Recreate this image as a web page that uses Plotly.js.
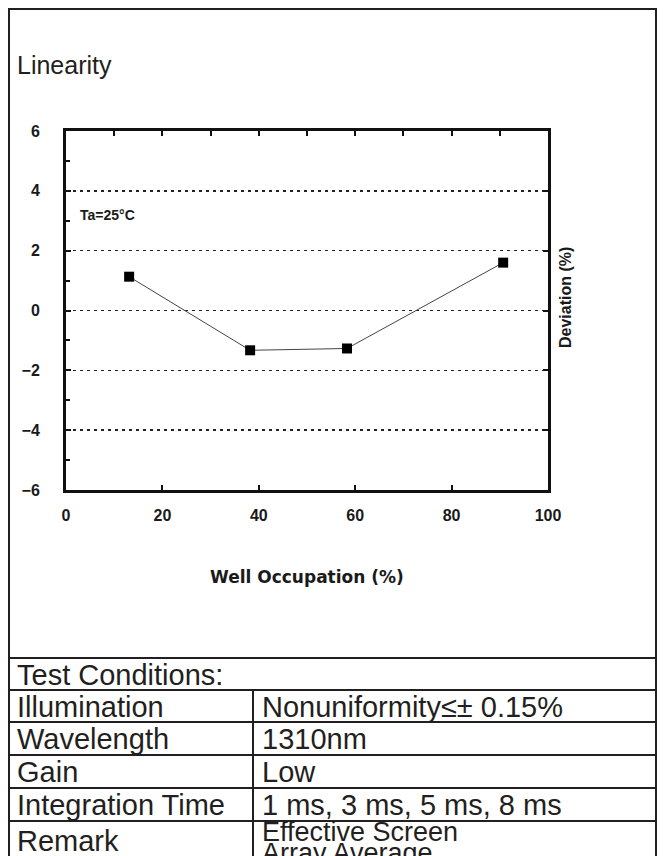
<!DOCTYPE html>
<html><head><meta charset="utf-8">
<script src="https://cdn.plot.ly/plotly-3.0.1.min.js"></script>
<style>html,body{margin:0;padding:0;background:#fff}#chart{width:665px;height:856px}</style>
</head><body><div id="chart"></div>
<script>
// ---- data ----
const wellOccupation = [13.1, 38.2, 58.3, 90.7];
const deviation = [1.13, -1.33, -1.27, 1.6];
const xTickVals = [0, 20, 40, 60, 80, 100];
const yTickVals = [-6, -4, -2, 0, 2, 4, 6];
const chartTitle = 'Linearity';
const xTitle = 'Well Occupation (%)';
const yTitle = 'Deviation (%)';
const tempLabel = 'Ta=25°C';
const tableHeader = 'Test Conditions:';
const conditionNames = ['Illumination', 'Wavelength', 'Gain', 'Integration Time', 'Remark'];
const conditionValues = [['Nonuniformity≤± 0.15%'], ['1310nm'], ['Low'], ['1 ms, 3 ms, 5 ms, 8 ms'], ['Effective Screen', 'Array Average']];

// ---- layout helpers (pixel -> paper) ----
const W = 665, H = 856;
const fx = p => p / W;
const fy = p => 1 - p / H;
const INK = '#231f20';
const SANS = 'Liberation Sans, Arial, sans-serif';

const plotL = 66, plotR = 548, plotT = 131, plotB = 490;
const frameL = 9, frameR = 656, frameT = 9;
const tableTop = 658;
const rowLines = [690, 722, 755, 788, 821];
const colDiv = 253;

const traces = [
  {
    x: wellOccupation, y: deviation, type: 'scatter', mode: 'lines+markers',
    line: {color: '#444', width: 1},
    marker: {symbol: 'square', size: 10, color: '#000'},
    showlegend: false, hoverinfo: 'x+y', xaxis: 'x', yaxis: 'y'
  },
  {
    x: wellOccupation, y: deviation, type: 'scatter', mode: 'none',
    showlegend: false, hoverinfo: 'skip', xaxis: 'x2', yaxis: 'y2'
  }
];

const tickFont = {family: SANS, size: 16, color: '#1a1a1a', weight: 'bold'};

const shapes = [];
const annotations = [];

// outer frame
shapes.push({type: 'rect', xref: 'paper', yref: 'paper', x0: fx(frameL), x1: fx(frameR), y0: fy(frameT), y1: fy(900),
  line: {color: INK, width: 2}, fillcolor: 'rgba(0,0,0,0)', layer: 'below'});
// table lines
[tableTop].concat(rowLines).forEach(r => shapes.push({type: 'line', xref: 'paper', yref: 'paper',
  x0: fx(frameL), x1: fx(frameR), y0: fy(r), y1: fy(r), line: {color: INK, width: 2}}));
shapes.push({type: 'line', xref: 'paper', yref: 'paper', x0: fx(colDiv), x1: fx(colDiv), y0: fy(rowLines[0]), y1: fy(900),
  line: {color: INK, width: 2}});

const textFont = {family: SANS, size: 29, color: INK};
// title
annotations.push({xref: 'paper', yref: 'paper', x: fx(15), y: fy(65), xanchor: 'left', yanchor: 'middle',
  text: chartTitle, showarrow: false, font: {family: SANS, size: 25, color: INK}});
// table header
annotations.push({xref: 'paper', yref: 'paper', x: fx(15), y: fy((tableTop + rowLines[0]) / 2 + 1), xanchor: 'left', yanchor: 'middle',
  text: tableHeader, showarrow: false, font: textFont});
// rows
const rowCenters = [706.5, 739, 772, 805, 841];
conditionNames.forEach((name, i) => {
  const mid = rowCenters[i];
  annotations.push({xref: 'paper', yref: 'paper', x: fx(15), y: fy(mid), xanchor: 'left', yanchor: 'middle',
    text: name, showarrow: false, font: textFont});
  const lines = conditionValues[i];
  const lh = 21;
  lines.forEach((t, j) => {
    const cy = lines.length > 1 ? 832 + j * lh : mid;
    annotations.push({xref: 'paper', yref: 'paper', x: fx(colDiv + 7), y: fy(cy), xanchor: 'left', yanchor: 'middle',
      text: t, showarrow: false, font: lines.length > 1 ? {family: SANS, size: 27, color: INK} : textFont});
  });
});

// chart labels
annotations.push({xref: 'x', yref: 'y', x: 2.4, y: 3.2, xanchor: 'left', yanchor: 'middle',
  text: tempLabel, showarrow: false, font: {family: SANS, size: 14, color: '#1a1a1a', weight: 'bold'}});
annotations.push({xref: 'paper', yref: 'paper', x: fx(565), y: fy(298), xanchor: 'center', yanchor: 'middle',
  text: yTitle, textangle: -90, showarrow: false, font: {family: SANS, size: 16, color: '#1a1a1a', weight: 'bold'}});
annotations.push({xref: 'paper', yref: 'paper', x: fx((plotL + plotR) / 2), y: fy(577), xanchor: 'center', yanchor: 'middle',
  text: xTitle, showarrow: false, font: {family: 'DejaVu Sans, sans-serif', size: 17, color: '#1a1a1a', weight: 'bold'}});

const layout = {
  width: W, height: H,
  margin: {l: 0, r: 0, t: 0, b: 0, pad: 0},
  paper_bgcolor: '#fff', plot_bgcolor: '#fff',
  showlegend: false,
  xaxis: {
    domain: [fx(plotL), fx(plotR)], range: [0, 100], tickvals: xTickVals,
    ticks: 'inside', ticklen: 5, tickwidth: 2, tickcolor: '#111',
    showline: true, linewidth: 3, linecolor: '#111', showgrid: false, zeroline: false,
    tickfont: tickFont, ticklabelstandoff: 9, automargin: false, fixedrange: true,
    anchor: 'y'
  },
  xaxis2: {
    overlaying: 'x', side: 'top', anchor: 'y', range: [0, 100], tick0: 0, dtick: 10,
    ticks: 'inside', ticklen: 5, tickwidth: 2, tickcolor: '#111', showticklabels: false,
    showline: true, linewidth: 3, linecolor: '#111', showgrid: false, zeroline: false, automargin: false, fixedrange: true
  },
  yaxis: {
    domain: [fy(plotB), fy(plotT)], range: [-6, 6], tickvals: yTickVals,
    ticks: 'inside', ticklen: 5, tickwidth: 2, tickcolor: '#111',
    minor: {tick0: -6, dtick: 1, ticks: 'inside', ticklen: 4, tickwidth: 2, tickcolor: '#111', showgrid: false},
    showline: true, linewidth: 3, linecolor: '#111',
    showgrid: true, gridcolor: '#222', gridwidth: 1.5, griddash: '3px,4px',
    zeroline: false, tickfont: tickFont, ticklabelstandoff: 20, automargin: false, fixedrange: true,
    anchor: 'x'
  },
  yaxis2: {
    overlaying: 'y', side: 'right', anchor: 'x', range: [-6, 6], tickvals: [-4, -2, 0, 2, 4],
    ticks: 'inside', ticklen: 5, tickwidth: 2, tickcolor: '#111', showticklabels: false,
    showline: true, linewidth: 3, linecolor: '#111', showgrid: false, zeroline: false, automargin: false, fixedrange: true
  },
  shapes: shapes,
  annotations: annotations
};

Plotly.newPlot('chart', traces, layout, {staticPlot: true, displayModeBar: false});
</script>
</body></html>
